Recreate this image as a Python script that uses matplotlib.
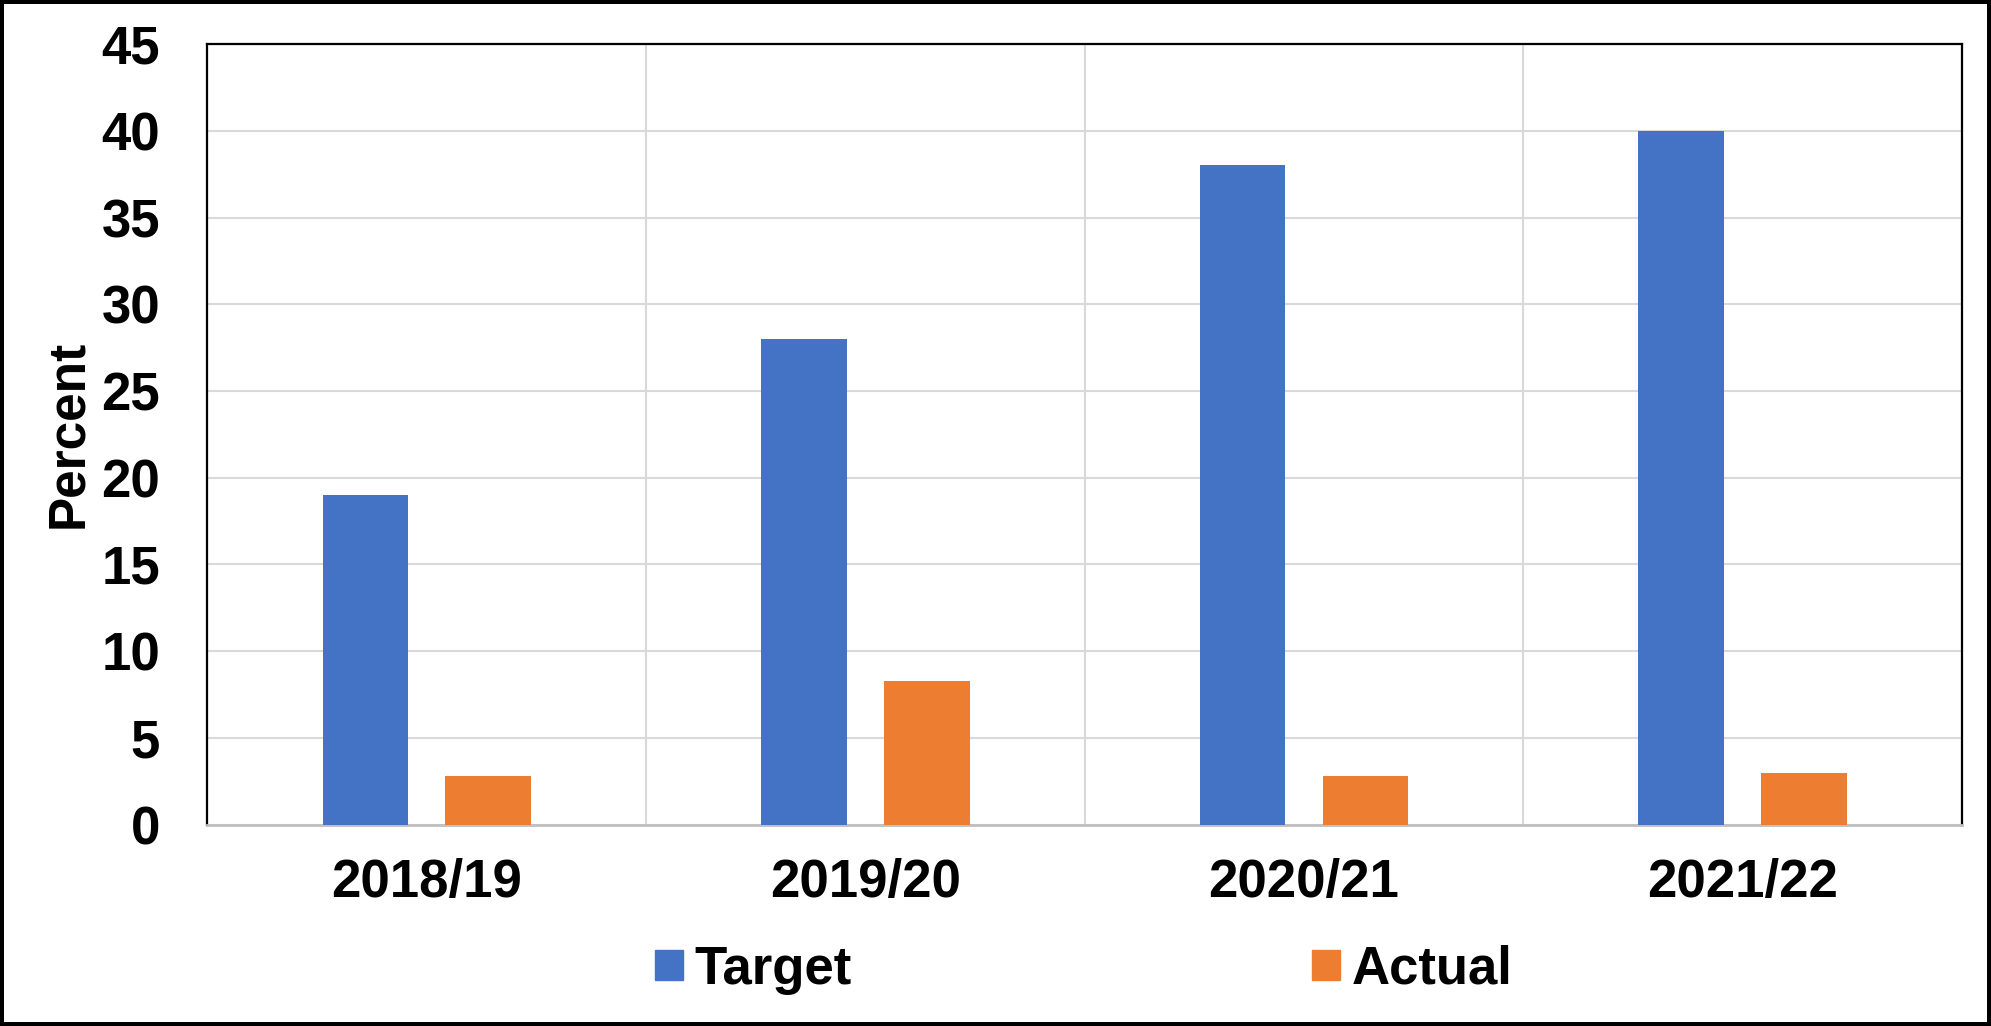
import numpy as np
import matplotlib
matplotlib.use("Agg")
import matplotlib.pyplot as plt
from matplotlib.patches import Patch

plt.rcParams["font.family"] = ["Liberation Sans", "DejaVu Sans"]
plt.rcParams["font.weight"] = "bold"

years = ["2018/19", "2019/20", "2020/21", "2021/22"]
target = [19, 28, 38, 40]
actual = [2.8, 8.3, 2.8, 3.0]

BLUE = "#4472C4"
ORANGE = "#ED7D31"
GRID = "#D9D9D9"

fig = plt.figure(figsize=(19.91, 10.26), dpi=100)
fig.patch.set_edgecolor("black")
fig.patch.set_linewidth(4.5)

ax = fig.add_axes([0.1042, 0.1962, 0.8812, 0.7609])

x = np.arange(len(years))
offset = 0.14
width = 0.195
ax.bar(x - offset, target, width=width, color=BLUE, zorder=3)
ax.bar(x + offset, actual, width=width, color=ORANGE, zorder=3)

ax.set_xlim(-0.5, len(years) - 0.5)
ax.set_ylim(0, 45)
ax.set_yticks(range(0, 46, 5))
ax.set_xticks(x)
ax.set_xticklabels(years)
ax.set_xticks(x[:-1] + 0.5, minor=True)

ax.grid(axis="y", which="major", color=GRID, linewidth=1.5, zorder=0)
ax.grid(axis="x", which="minor", color=GRID, linewidth=1.5, zorder=0)
ax.tick_params(axis="both", which="both", length=0)
ax.tick_params(axis="x", labelsize=38, pad=24)
ax.tick_params(axis="y", labelsize=38, pad=34)

for side in ["top", "left", "right"]:
    ax.spines[side].set_color("black")
    ax.spines[side].set_linewidth(1.6)
ax.spines["bottom"].set_color("#BFBFBF")
ax.spines["bottom"].set_linewidth(2)

ax.set_ylabel("Percent", fontsize=37, fontweight="bold", labelpad=6)

handles = [Patch(color=BLUE, label="Target"), Patch(color=ORANGE, label="Actual")]
fig.legend(handles=handles, loc="center left", bbox_to_anchor=(0.329, 0.0546),
           ncol=2, frameon=False, fontsize=38, borderpad=0, borderaxespad=0,
           handlelength=0.53, handleheight=0.51, handletextpad=0.22,
           columnspacing=8.72)

fig.savefig("out.png", dpi=100)
